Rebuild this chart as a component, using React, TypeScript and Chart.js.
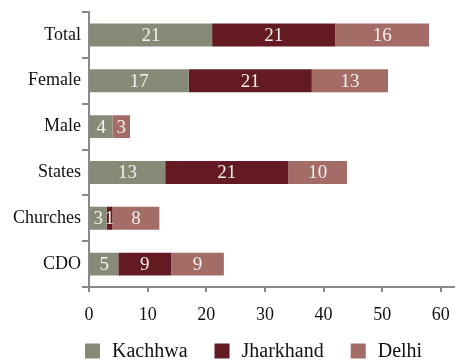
import React, { useEffect, useRef } from "react";
import { Chart, registerables } from "chart.js";

Chart.register(...registerables);

const categories = ["Total", "Female", "Male", "States", "Churches", "CDO"];
const seriesNames = ["Kachhwa", "Jharkhand", "Delhi"];
const kachhwa = [21, 17, 4, 13, 3, 5];
const jharkhand = [21, 21, 0, 21, 1, 9];
const delhi = [16, 13, 3, 10, 8, 9];
const xTicks = [0, 10, 20, 30, 40, 50, 60];

const colors = ["#878a76", "#641a23", "#a46c66"];
const serif = "'Liberation Serif', 'Times New Roman', serif";

// Value labels printed in the middle of each stacked segment
const segmentLabels = {
  id: "segmentLabels",
  afterDatasetsDraw(chart: any) {
    const ctx = chart.ctx;
    ctx.save();
    ctx.fillStyle = "#f4f0ee";
    ctx.font = `19px ${serif}`;
    ctx.textAlign = "center";
    ctx.textBaseline = "middle";
    chart.data.datasets.forEach((ds: any, di: number) => {
      const meta = chart.getDatasetMeta(di);
      meta.data.forEach((el: any, i: number) => {
        const v = ds.data[i];
        if (!v) return;
        const { x, base, y } = el.getProps(["x", "base", "y"], true);
        ctx.fillText(String(v), (x + base) / 2, y + 1);
      });
    });
    ctx.restore();
  },
};

// Legend row beneath the axis
const bottomLegend = {
  id: "bottomLegend",
  afterDraw(chart: any) {
    const ctx = chart.ctx;
    ctx.save();
    ctx.font = `20px ${serif}`;
    ctx.textBaseline = "middle";
    ctx.textAlign = "left";
    const box = 15;
    const gapText = 12;
    const gapItem = 27;
    const cy = 351;
    let x = chart.chartArea.left - 4;
    chart.data.datasets.forEach((ds: any) => {
      ctx.fillStyle = ds.backgroundColor;
      ctx.fillRect(x, cy - box / 2, box, box);
      x += box + gapText;
      ctx.fillStyle = "#111";
      ctx.fillText(ds.label, x, cy + 1);
      x += ctx.measureText(ds.label).width + gapItem;
    });
    ctx.restore();
  },
};

export default function App() {
  const ref = useRef<HTMLCanvasElement>(null);

  useEffect(() => {
    if (!ref.current) return;
    const values = [kachhwa, jharkhand, delhi];
    const chart = new Chart(ref.current, {
      type: "bar",
      data: {
        labels: categories,
        datasets: seriesNames.map((name, i) => ({
          label: name,
          data: values[i],
          backgroundColor: colors[i],
          borderWidth: 0,
          categoryPercentage: 0.5,
          barPercentage: 1,
        })),
      },
      options: {
        indexAxis: "y",
        animation: false,
        responsive: false,
        devicePixelRatio: 1,
        layout: { padding: { top: 12, right: 6, left: 0, bottom: 0 } },
        plugins: {
          legend: { display: false },
          tooltip: { enabled: false },
        },
        scales: {
          x: {
            stacked: true,
            min: 0,
            max: 62.3,
            afterBuildTicks(scale: any) {
              scale.ticks = xTicks.map((v) => ({ value: v }));
            },
            afterFit(scale: any) {
              scale.height = 74;
            },
            ticks: {
              color: "#111",
              font: { family: serif, size: 18 },
              padding: 12,
              maxRotation: 0,
            },
            grid: {
              drawOnChartArea: false,
              color: "#898989",
              lineWidth: 2,
              tickLength: 5,
            },
            border: { color: "#898989", width: 2 },
          },
          y: {
            stacked: true,
            afterFit(scale: any) {
              scale.width = 89;
            },
            ticks: {
              color: "#111",
              font: { family: serif, size: 18 },
              padding: 1,
            },
            grid: {
              drawOnChartArea: false,
              offset: true,
              color: "#898989",
              lineWidth: 2,
              tickLength: 7,
            },
            border: { color: "#898989", width: 2 },
          },
        },
      },
      plugins: [segmentLabels, bottomLegend],
    });
    return () => chart.destroy();
  }, []);

  return (
    <div style={{ position: "absolute", left: 0, top: 0, width: 462, height: 361, background: "#fff" }}>
      <canvas ref={ref} width={462} height={361} style={{ width: 462, height: 361 }} />
    </div>
  );
}
